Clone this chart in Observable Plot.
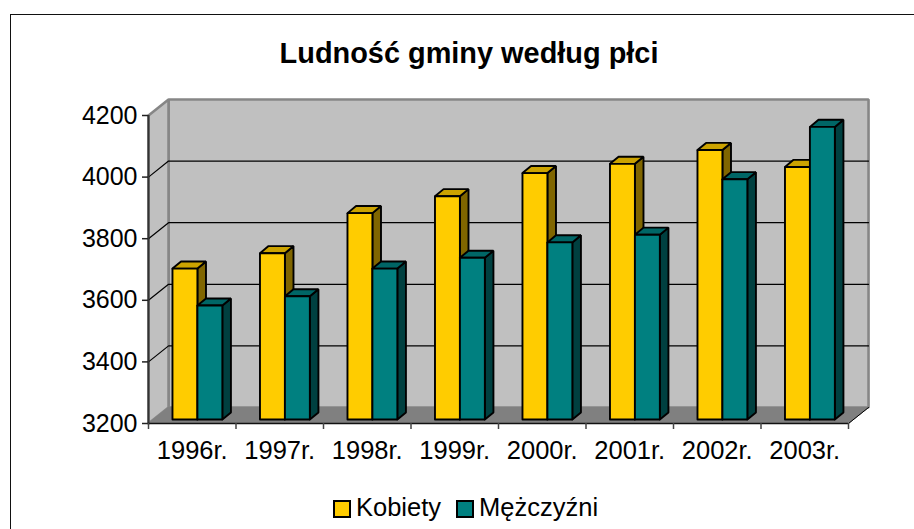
<!DOCTYPE html>
<html lang="pl">
<head>
<meta charset="utf-8">
<script src="https://cdn.jsdelivr.net/npm/d3@7"></script>
<script src="https://cdn.jsdelivr.net/npm/@observablehq/plot@0.6"></script>
<style>
  html, body { margin: 0; padding: 0; background: #fff; width: 914px; height: 529px; overflow: hidden; font-family: "Liberation Sans", Arial, sans-serif; color: #000; }
  #frame { position: absolute; left: 10px; top: 14px; right: -10px; bottom: -10px; border-left: 1.5px solid #111; border-top: 1.5px solid #111; pointer-events: none; }
  #title { position: relative; height: 70px; box-sizing: border-box; padding: 37px 0 0 0; margin-left: 24px; line-height: 32px; font-size: 28.9px; font-weight: bold; text-align: center; }
  #chart svg { display: block; }
  #legend { height: 59px; display: flex; align-items: center; justify-content: flex-start; margin-left: 333px; padding-top: 15px; box-sizing: border-box; font-size: 25.5px; }
  .key { display: flex; align-items: center; margin-right: 15px; }
  .sw { width: 14px; height: 14px; border: 2px solid #000; margin-right: 5px; margin-top: 3px; }
</style>
</head>
<body>
<div id="frame"></div>
<div id="title">Ludność gminy według płci</div>
<div id="chart"></div>
<div id="legend"></div>
<script>
const years = ["1996r.", "1997r.", "1998r.", "1999r.", "2000r.", "2001r.", "2002r.", "2003r."];
const kobiety = [3690, 3740, 3870, 3925, 4000, 4030, 4075, 4020];
const mezczyzni = [3570, 3600, 3690, 3725, 3775, 3800, 3980, 4150];
const yTicks = [3200, 3400, 3600, 3800, 4000, 4200];
const seriesNames = ["Kobiety", "Mężczyźni"];
const palette = {
  Kobiety: { front: "#ffcc00", top: "#cca300", side: "#806600" },
  "Mężczyźni": { front: "#008080", top: "#006666", side: "#004040" }
};

// Oblique-projection offsets, expressed in scale units.
const wallDX = 0.229, wallDY = 52;      // depth of the chart box
const barDX = 0.098, barDY = 23;        // depth of one bar
const baseDY = 13;                      // bars stand slightly back on the floor
const barStart = 0.274, barW = 0.285;

const n = years.length;
const closed = (pts) => [...pts, pts[0]];
const rows = (id, pts, fill) => closed(pts).map(([x, y]) => ({ id, x, y, fill }));

const walls = [
  ...rows("back", [[wallDX, 3200 + wallDY], [n + wallDX, 3200 + wallDY], [n + wallDX, 4200 + wallDY], [wallDX, 4200 + wallDY]], "#c0c0c0"),
  ...rows("left", [[0, 3200], [wallDX, 3200 + wallDY], [wallDX, 4200 + wallDY], [0, 4200]], "#c0c0c0")
];
const floor = rows("floor", [[0, 3200], [n, 3200], [n + wallDX, 3200 + wallDY], [wallDX, 3200 + wallDY]], "#808080");

const grid = yTicks.slice(1, -1).flatMap((v) => [
  { v, x: 0, y: v },
  { v, x: wallDX, y: v + wallDY },
  { v, x: n + wallDX, y: v + wallDY }
]);

const barFaces = years.flatMap((yr, i) =>
  [kobiety[i], mezczyzni[i]].flatMap((value, s) => {
    const name = seriesNames[s], c = palette[name];
    const x0 = i + barStart + s * barW, x1 = x0 + barW;
    const y0 = 3200 + baseDY, y1 = value + baseDY;
    const key = `${yr}-${name}`;
    return [
      ...rows(key + "-side", [[x1, y0], [x1 + barDX, y0 + barDY], [x1 + barDX, y1 + barDY], [x1, y1]], c.side),
      ...rows(key + "-top", [[x0, y1], [x1, y1], [x1 + barDX, y1 + barDY], [x0 + barDX, y1 + barDY]], c.top),
      ...rows(key + "-front", [[x0, y0], [x1, y0], [x1, y1], [x0, y1]], c.front)
    ];
  })
);

const chart = Plot.plot({
  width: 914,
  height: 400,
  marginLeft: 148,
  marginRight: 66,
  marginTop: 45,
  marginBottom: 47,
  style: { background: "none", fontFamily: "'Liberation Sans', Arial, sans-serif", fontSize: "24px", color: "#000", overflow: "visible" },
  x: { domain: [0, n] },
  y: { domain: [3200, 4200] },
  color: { type: "identity" },
  marks: [
    Plot.line(walls, { x: "x", y: "y", z: "id", fill: "fill", stroke: "#868686", strokeWidth: 2.6, strokeLinejoin: "miter" }),
    Plot.line(floor, { x: "x", y: "y", z: "id", fill: "fill", stroke: "#808080", strokeWidth: 1 }),
    Plot.line(grid, { x: "x", y: "y", z: "v", stroke: "#000", strokeWidth: 1.2, strokeLinejoin: "miter" }),
    Plot.line(barFaces, { x: "x", y: "y", z: "id", fill: "fill", stroke: "#000", strokeWidth: 1.9, strokeLinejoin: "miter" }),
    Plot.line([{ x: n, y: 3200 }, { x: n + wallDX, y: 3200 + wallDY }], { x: "x", y: "y", stroke: "#000", strokeWidth: 1 }),
    Plot.ruleX([0], { y1: 3200, y2: 4200, stroke: "#333", strokeWidth: 2 }),
    Plot.ruleY([3200], { x1: 0, x2: n, stroke: "#111", strokeWidth: 1.5 }),
    Plot.axisY({ ticks: yTicks, tickFormat: "d", tickSize: 6, tickPadding: 5, label: null, stroke: "#222", strokeWidth: 1.5, fontSize: 25 }),
    Plot.axisX({ ticks: d3.range(n + 1), tickFormat: () => "", tickSize: 6, label: null, stroke: "#444", strokeWidth: 1.5 }),
    Plot.axisX({ ticks: d3.range(n).map((i) => i + 0.5), tickFormat: (d) => years[Math.floor(d)], tickSize: 0, tickPadding: 17, label: null, fontSize: 25.5 })
  ]
});
document.getElementById("chart").append(chart);

const legend = document.getElementById("legend");
seriesNames.forEach((name) => {
  const key = document.createElement("div");
  key.className = "key";
  const sw = document.createElement("span");
  sw.className = "sw";
  sw.style.background = palette[name].front;
  const label = document.createElement("span");
  label.textContent = name;
  key.append(sw, label);
  legend.append(key);
});
</script>
</body>
</html>
